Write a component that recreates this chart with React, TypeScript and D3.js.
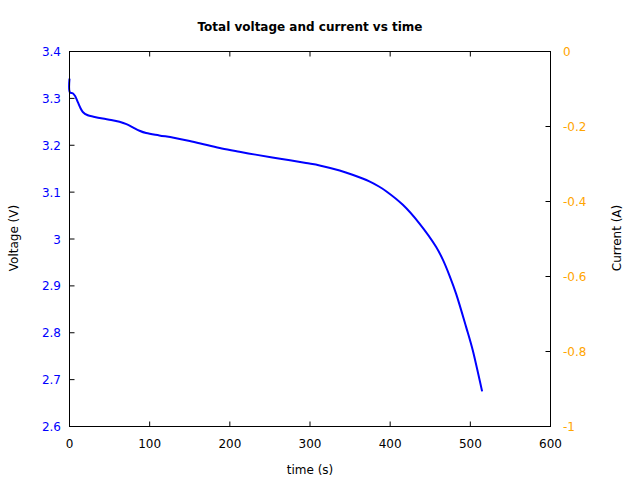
import React from "react";
import * as d3 from "d3";

const timeS = [0, 0.5, 4, 7, 10.4, 13.5, 16.6, 22.8, 30, 41.5, 52, 62.4, 71, 79, 87.3, 95.6, 112, 130, 150, 170, 190, 212, 232, 253, 275, 295, 312, 337, 353, 374, 386, 395, 415.8, 436.6, 457.4, 465.7, 474, 482.3, 494.8, 503.1, 514.7];
const voltageV = [3.342, 3.313, 3.311, 3.305, 3.292, 3.280, 3.271, 3.264, 3.261, 3.257, 3.254, 3.250, 3.245, 3.238, 3.231, 3.226, 3.221, 3.216, 3.209, 3.201, 3.193, 3.186, 3.180, 3.174, 3.168, 3.162, 3.157, 3.146, 3.137, 3.123, 3.112, 3.102, 3.073, 3.033, 2.983, 2.956, 2.922, 2.883, 2.812, 2.762, 2.675];

const xTicks = [0, 100, 200, 300, 400, 500, 600];
const vTicks = [2.6, 2.7, 2.8, 2.9, 3.0, 3.1, 3.2, 3.3, 3.4];
const iTicks = [0, -0.2, -0.4, -0.6, -0.8, -1];

export default function App() {
  const W = 640, H = 480;
  const L = 69.5, R = 550.5, T = 51.5, B = 426.5;
  const x = d3.scaleLinear().domain([0, 600]).range([L, R]);
  const yV = d3.scaleLinear().domain([2.6, 3.4]).range([B, T]);
  const yI = d3.scaleLinear().domain([-1, 0]).range([B, T]);
  const line = d3.line<number>().x((_, i) => x(timeS[i])).y((v) => yV(v)).curve(d3.curveCatmullRom.alpha(0.5));
  const tl = 5;
  const font = "DejaVu Sans, sans-serif";
  const fmtV = (v: number) => (Math.abs(v - 3) < 1e-9 ? "3" : v.toFixed(1));
  const fmtI = (v: number) => (v === 0 ? "0" : v === -1 ? "-1" : String(+v.toFixed(1)));
  return (
    <svg width={W} height={H} style={{ position: "absolute", left: 0, top: 0, background: "#fff" }} fontFamily={font}>
      <rect x={0} y={0} width={W} height={H} fill="#fff" />
      <text x={310} y={31} textAnchor="middle" fontSize={12} fontWeight="bold">Total voltage and current vs time</text>
      <path d={line(voltageV) || ""} fill="none" stroke="#0000ff" strokeWidth={2} />
      <rect x={L} y={T} width={R - L} height={B - T} fill="none" stroke="#000" strokeWidth={1} />
      {xTicks.map((t) => (
        <g key={"x" + t}>
          <line x1={x(t)} x2={x(t)} y1={B} y2={B - tl} stroke="#000" />
          <line x1={x(t)} x2={x(t)} y1={T} y2={T + tl} stroke="#000" />
          <text x={x(t)} y={448} textAnchor="middle" fontSize={12} fill="#000">{t}</text>
        </g>
      ))}
      {vTicks.map((v) => (
        <g key={"v" + v}>
          <line x1={L} x2={L + tl} y1={yV(v)} y2={yV(v)} stroke="#000" />
          <text x={61} y={yV(v) + 4.5} textAnchor="end" fontSize={12} fill="#0000ff">{fmtV(v)}</text>
        </g>
      ))}
      {iTicks.map((v) => (
        <g key={"i" + v}>
          <line x1={R} x2={R - tl} y1={yI(v)} y2={yI(v)} stroke="#000" />
          <text x={563} y={yI(v) + 4.5} textAnchor="start" fontSize={12} fill="#ffa500">{fmtI(v)}</text>
        </g>
      ))}
      <text x={310} y={474} textAnchor="middle" fontSize={12}>time (s)</text>
      <text transform="translate(18,238) rotate(-90)" textAnchor="middle" fontSize={12}>Voltage (V)</text>
      <text transform="translate(621,238) rotate(-90)" textAnchor="middle" fontSize={12}>Current (A)</text>
    </svg>
  );
}
